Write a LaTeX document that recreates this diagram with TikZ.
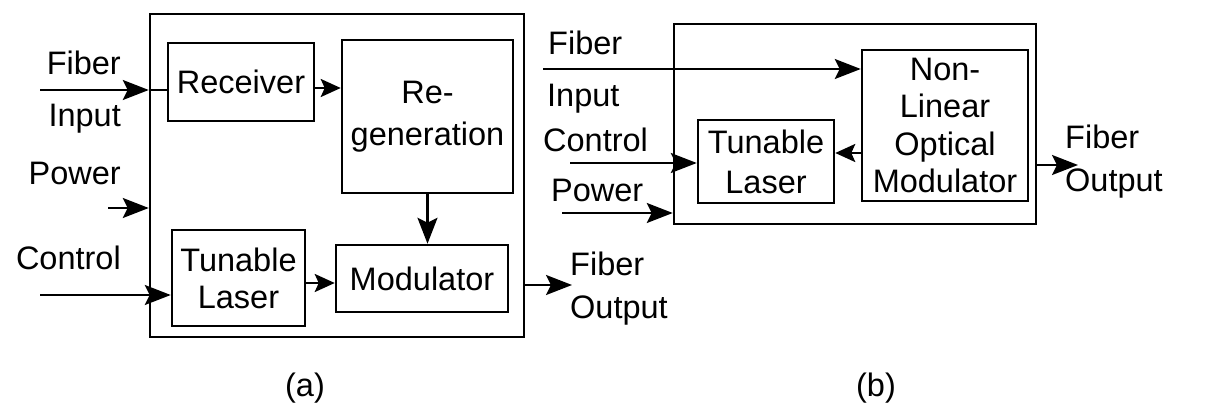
\documentclass[tikz,border=0pt]{standalone}
\usepackage{fontspec}
\setmainfont{Liberation Sans}
\usetikzlibrary{arrows.meta}
\begin{document}
\begin{tikzpicture}[x=1pt,y=-1pt,
  box/.style={draw,line width=2.5pt,rectangle,inner sep=0pt,align=center},
  lbl/.style={inner sep=0pt,align=center},
  arr/.style={line width=2.5pt,-{Stealth[length=26pt,width=20pt,inset=5pt]}},
  sarr/.style={line width=2.5pt,-{Stealth[length=20pt,width=18pt,inset=4pt]}},
  ln/.style={line width=2.5pt},
  every node/.append style={font=\fontsize{32.5}{38}\selectfont}]
\useasboundingbox (0,0) rectangle (1207,404);
% ---------- panel (a)
\node[box,minimum width=374pt,minimum height=323pt] (outA) at (337,175.5) {};
\node[box,minimum width=146pt,minimum height=78pt] (recv) at (241,82) {Receiver};
\node[box,minimum width=171pt,minimum height=153pt,font=\fontsize{32.5}{42}\selectfont] (regen) at (427.5,116.5) {Re-\\generation};
\node[box,minimum width=133pt,minimum height=96pt,font=\fontsize{32.5}{37}\selectfont] (tla) at (238.5,278) {Tunable\\Laser};
\node[box,minimum width=172pt,minimum height=67pt] (mod) at (422,278.5) {\raisebox{-4pt}{Modulator}};
\node[lbl,anchor=mid east] (fa1) at (121,72) {Fiber};
\node[lbl,anchor=mid east] (fa2) at (121,124) {Input};
\node[lbl,anchor=mid east] (pa) at (121,182) {Power};
\node[lbl,anchor=mid east] (ca) at (121,267) {Control};
\node[lbl,anchor=west,align=left,font=\fontsize{32.5}{43}\selectfont] (oa) at (570,289) {Fiber\\Output};
\node[lbl] (capa) at (305,388) {(a)};
\coordinate (fia) at (40,90);
\coordinate (pwa) at (108,208);
\coordinate (cta) at (40,295);
\coordinate (oas) at (524,285);
\coordinate (oae) at (572,285);
\draw[arr] (fia) -- (outA.west |- fia);
\draw[ln] (outA.west |- fia) -- (recv.west |- fia);
\draw[arr] (pwa) -- (outA.west |- pwa);
\draw[arr] (cta) -- (tla.west |- cta);
\draw[sarr] (recv.east |- 0,88) -- (regen.west |- 0,88);
\draw[arr] (regen.south) -- (regen.south |- mod.north);
\draw[sarr] (tla.east |- 0,283) -- (mod.west |- 0,283);
\draw[arr] (oas) -- (oae);
% ---------- panel (b)
\node[box,minimum width=362pt,minimum height=200pt] (outB) at (855,124) {};
\node[box,minimum width=166pt,minimum height=151pt,font=\fontsize{32.5}{37.5}\selectfont] (nlom) at (945,125.5) {Non-\\Linear\\Optical\\Modulator};
\node[box,minimum width=136pt,minimum height=83pt,font=\fontsize{32.5}{40}\selectfont] (tlb) at (766,161.5) {Tunable\\Laser};
\node[lbl,anchor=mid west] (fb1) at (548,52) {Fiber};
\node[lbl,anchor=mid west] (fb2) at (547,104) {Input};
\node[lbl,anchor=mid west] (cb) at (543,149) {Control};
\node[lbl,anchor=mid west] (pb) at (551,199) {Power};
\node[lbl,anchor=west,align=left,font=\fontsize{32.5}{43}\selectfont] (ob) at (1065,162) {Fiber\\Output};
\node[lbl] (capb) at (876,388) {(b)};
\coordinate (fib) at (543,69);
\coordinate (ctb) at (570,163);
\coordinate (pwb) at (562,213);
\coordinate (obs) at (1037,165);
\coordinate (obe) at (1078,165);
\draw[arr] (fib) -- (nlom.west |- fib);
\draw[arr] (ctb) -- (tlb.west |- ctb);
\draw[arr] (pwb) -- (outB.west |- pwb);
\draw[sarr] (nlom.west |- 0,153) -- (tlb.east |- 0,153);
\draw[arr] (obs) -- (obe);
\end{tikzpicture}
\end{document}
